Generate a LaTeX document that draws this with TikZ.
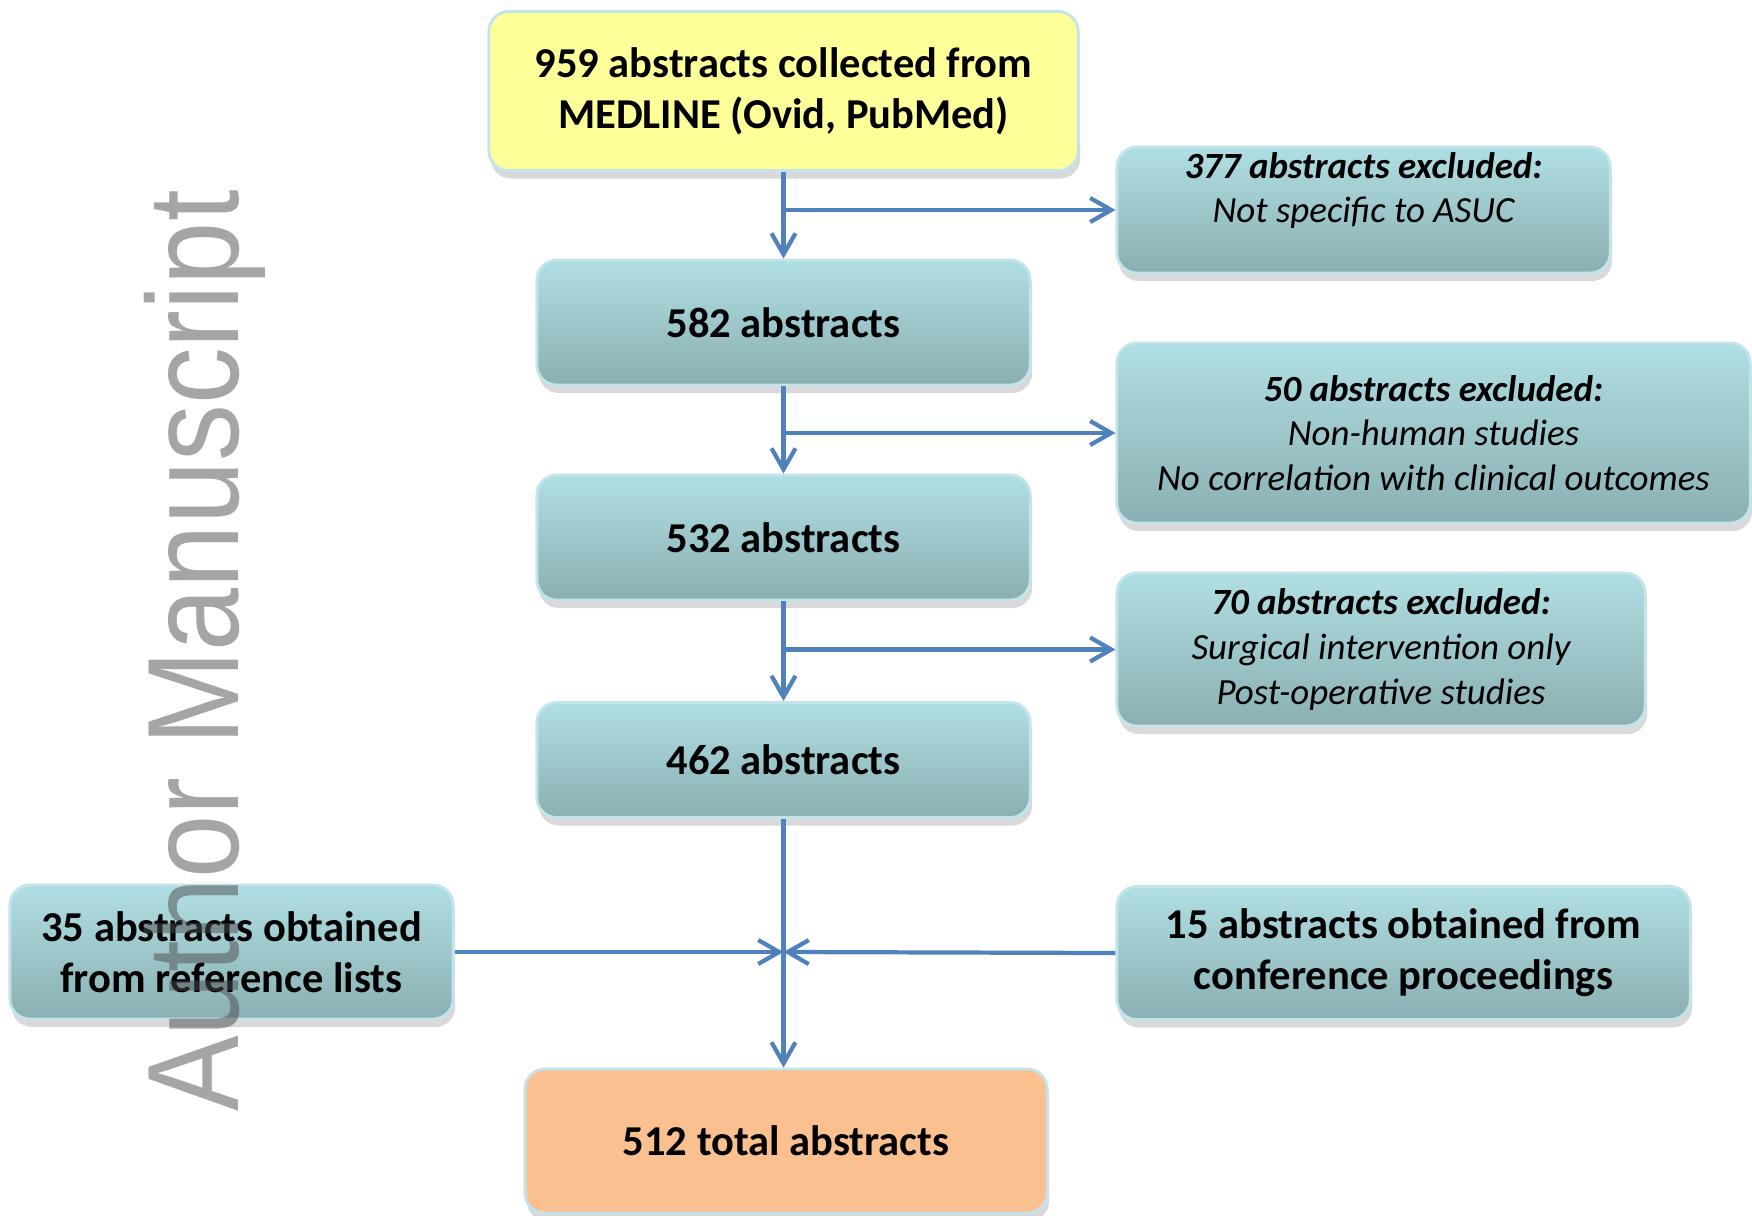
\documentclass[tikz,border=0pt]{standalone}
\usepackage{fontspec}
\setmainfont{Carlito}
\newfontfamily\wmfont{Liberation Sans}
\usetikzlibrary{arrows.meta,shadows}

\definecolor{flowblue}{RGB}{79,129,189}
\definecolor{tealtop}{RGB}{176,223,227}
\definecolor{tealbot}{RGB}{138,175,178}
\definecolor{boxedge}{RGB}{196,228,236}
\definecolor{startyellow}{RGB}{255,255,153}
\definecolor{endorange}{RGB}{250,192,144}

\tikzset{
  box/.style={rectangle, rounded corners=2mm, draw=boxedge, line width=0.8pt,
    align=center, inner sep=0pt,
    drop shadow={shadow xshift=0.2mm, shadow yshift=-0.8mm, opacity=0.3},
    font=\fontsize{12.1}{14.5}\selectfont\bfseries},
  stage/.style={box, top color=tealtop, bottom color=tealbot},
  excl/.style={stage, font=\fontsize{10.5}{12.7}\selectfont\itshape},
  flow/.style={-{Straight Barb[length=2.1mm,width=2.4mm]}, draw=flowblue, line width=1.2pt},
}

\begin{document}
\begin{tikzpicture}[x=0.01cm, y=-0.01cm]
  \useasboundingbox (0,0) rectangle (1752,1215);

  % main column
  \node[box, fill=startyellow, minimum width=5.89cm, minimum height=1.59cm] (start) at (783.5,91)
    {959 abstracts collected from\\ MEDLINE (Ovid, PubMed)};
  \node[stage, minimum width=4.93cm, minimum height=1.25cm] (n582) at (783.5,322.5) {582 abstracts};
  \node[stage, minimum width=4.93cm, minimum height=1.25cm] (n532) at (783.5,537.5) {532 abstracts};
  \node[stage, minimum width=4.93cm, minimum height=1.15cm] (n462) at (783.5,760) {462 abstracts};
  \node[box, fill=endorange, minimum width=5.22cm, minimum height=1.44cm] (total) at (786,1141) {512 total abstracts};

  % exclusions
  \node[excl, minimum width=4.93cm, minimum height=1.26cm] (ex377) at (1363.5,210)
    {\textbf{377 abstracts excluded:}\\ Not specific to ASUC\\ \mbox{}};
  \node[excl, minimum width=6.33cm, minimum height=1.80cm] (ex50) at (1433.5,433)
    {\textbf{50 abstracts excluded:}\\ Non-human studies\\ No correlation with clinical outcomes};
  \node[excl, minimum width=5.28cm, minimum height=1.53cm] (ex70) at (1381,649.5)
    {\textbf{70 abstracts excluded:}\\ Surgical intervention only\\ Post-operative studies};

  % additions
  \node[stage, minimum width=4.43cm, minimum height=1.34cm] (ref35) at (231.5,952)
    {35 abstracts obtained\\ from reference lists};
  \node[stage, minimum width=5.73cm, minimum height=1.33cm] (conf15) at (1403.5,953)
    {15 abstracts obtained from\\ conference proceedings};

  \draw[flow] (start) -- (n582);
  \draw[flow] (n582) -- (n532);
  \draw[flow] (n532) -- (n462);
  \draw[flow] (start.south |- ex377.west) -- (ex377.west);
  \draw[flow] (n582.south |- ex50.west) -- (ex50.west);
  \draw[flow] (n532.south |- ex70.west) -- (ex70.west);

  \coordinate (join) at (n462.south |- ref35.east);
  \draw[flow] (n462.south) -- (n462.south |- total.north);
  \draw[flow] (ref35.east) -- (join);
  \draw[flow] (conf15.west) -- (join);

  \node[rotate=90, text=black!70, opacity=0.5, inner sep=0pt,
    font=\wmfont\fontsize{37}{37}\selectfont] (wm) at (205,651)
    {\scalebox{0.873}[1]{Author Manuscript}};
\end{tikzpicture}
\end{document}
